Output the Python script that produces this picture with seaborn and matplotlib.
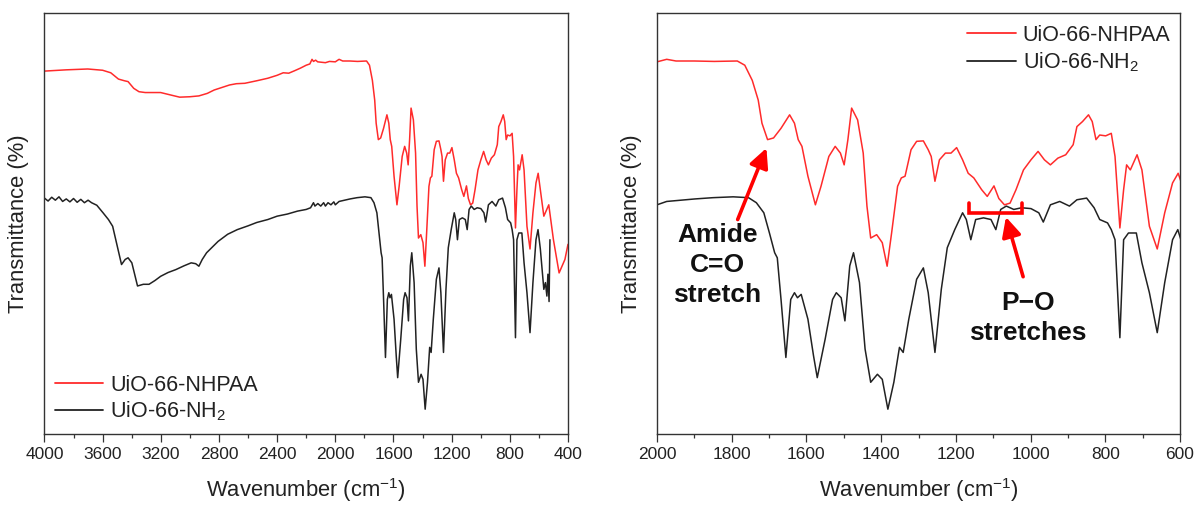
import numpy as np
import pandas as pd
import matplotlib
matplotlib.use("Agg")
import matplotlib.pyplot as plt
from matplotlib.ticker import MultipleLocator
from matplotlib.lines import Line2D
import seaborn as sns

# ---------------- data ----------------
SERIES = ["UiO-66-NHPAA", "UiO-66-NH$_2$"]
COLORS = ["#ff2b2b", "#222222"]

RED_WN = [4000, 3850, 3702, 3600, 3544, 3491, 3450, 3425, 3386, 3350, 3307, 3201, 3130, 3070,
          3000, 2938, 2880, 2833, 2727, 2680, 2622, 2540, 2464, 2400, 2358, 2320, 2279, 2240,
          2200, 2175, 2160, 2150, 2135, 2121, 2068, 2040, 2000, 1974, 1949, 1900, 1847, 1785,
          1765, 1745, 1729, 1719, 1704, 1688, 1668, 1645, 1632, 1622, 1612, 1596, 1576, 1561,
          1540, 1523, 1509, 1499, 1489, 1479, 1463, 1448, 1438, 1428, 1412, 1397, 1384, 1372,
          1356, 1346, 1336, 1320, 1305, 1287, 1274, 1266, 1256, 1244, 1228, 1213, 1198, 1182,
          1167, 1152, 1131, 1116, 1098, 1085, 1070, 1055, 1039, 1019, 999, 980, 963, 947, 927,
          906, 886, 876, 861, 845, 835, 825, 815, 799, 784, 774, 761, 751, 743, 733, 715, 702,
          682, 661, 641, 620, 605, 566, 532, 500, 461, 421, 400]
RED_T = [86.3, 86.6, 86.8, 86.5, 85.9, 84.4, 84.0, 83.8, 82.2, 81.4, 81.2, 81.2, 80.6, 80.1,
         80.2, 80.4, 81.0, 81.8, 83.0, 83.3, 83.4, 84.0, 84.6, 85.3, 85.9, 85.8, 86.4, 87.0,
         87.7, 88.0, 89.1, 88.6, 88.9, 88.5, 88.3, 88.6, 88.5, 89.1, 88.7, 88.7, 88.6, 88.7,
         87.7, 84.1, 79.4, 73.9, 70.0, 70.4, 72.7, 75.9, 73.9, 70.0, 68.4, 61.3, 54.5, 58.9,
         66.0, 68.4, 66.8, 64.0, 70.0, 77.5, 74.7, 66.8, 54.2, 46.6, 47.4, 45.5, 39.9, 47.8,
         58.9, 60.9, 61.3, 67.6, 69.6, 69.7, 67.6, 66.0, 60.1, 65.2, 66.8, 66.8, 68.1, 65.2,
         62.0, 60.9, 58.1, 56.5, 59.0, 56.0, 54.5, 54.9, 58.1, 62.8, 65.2, 67.2, 65.2, 64.0, 65.6,
         66.4, 68.8, 73.1, 74.3, 75.9, 74.3, 70.0, 71.1, 70.9, 71.5, 66.0, 49.0, 58.1, 64.0, 62.8,
         66.4, 62.8, 49.4, 44.0, 52.6, 59.7, 62.0, 51.8, 54.5, 46.2, 38.3, 41.5, 45.1]

BLK_WN = [4000, 3975, 3950, 3925, 3900, 3875, 3850, 3825, 3800, 3775, 3750, 3725, 3700, 3676,
          3640, 3597, 3560, 3531, 3505, 3470,
          3445, 3425, 3399, 3380, 3360, 3320, 3281, 3240, 3201, 3150, 3096, 3040, 2991, 2960,
          2938, 2915, 2885, 2850, 2806, 2740, 2674, 2600, 2540, 2464, 2400, 2330, 2260, 2200,
          2170, 2150, 2140, 2120, 2100, 2080, 2068, 2050, 2030, 2010, 2000, 1974, 1898, 1850,
          1796, 1755, 1734, 1714,
          1699, 1685, 1678, 1668, 1655, 1642, 1632, 1624, 1614, 1596, 1581, 1571, 1550, 1530,
          1520, 1507, 1497, 1484, 1474, 1458, 1443, 1428, 1410, 1397, 1382, 1366, 1351, 1341,
          1326, 1305, 1287, 1274, 1256, 1239, 1223, 1203, 1182, 1172, 1160, 1147, 1126, 1106,
          1093, 1080, 1065, 1045, 1024, 999, 978, 966, 947, 922, 896, 876, 850, 830, 815, 794,
          784, 774, 761, 751, 738, 717, 702, 682, 661, 641, 620, 606, 590, 575, 566, 555, 545,
          538, 530, 524]
BLK_T = [56.1, 55.4, 56.3, 55.6, 56.4, 55.3, 55.9, 55.2, 56.0, 55.1, 55.8, 55.0, 55.6, 55.0,
         54.4, 52.6, 51.0, 49.4, 45.5, 40.3,
         41.5, 41.9, 40.7, 38.0, 35.2, 35.6, 35.6, 36.5, 37.5, 38.4, 39.1, 40.0, 40.7, 40.5,
         39.9, 41.5, 43.1, 44.3, 45.8, 47.5, 48.6, 49.5, 50.3, 51.0, 51.8, 52.3, 53.0, 53.4,
         53.8, 55.0, 54.2, 54.8, 54.2, 55.0, 54.2, 55.0, 54.5, 55.2, 54.5, 55.3, 55.9, 56.2,
         56.4, 56.2, 55.0, 52.6,
         47.8, 43.1, 41.9, 32.0, 18.2, 32.0, 33.6, 32.4, 33.2, 27.3, 18.6, 13.4, 22.5, 32.0,
         33.6, 32.4, 26.9, 40.0, 43.1, 36.0, 20.2, 12.3, 14.2, 13.0, 5.9, 12.3, 20.6, 19.4,
         27.3, 36.8, 39.5, 33.6, 19.4, 34.4, 44.3, 48.6, 52.6, 51.0, 46.2, 51.0, 51.4, 51.0,
         48.6, 53.4, 54.2, 53.4, 53.8, 53.6, 52.6, 50.4, 54.5, 55.3, 54.2, 55.7, 56.1, 53.8, 51.0, 50.2,
         48.6, 46.2, 22.9, 46.2, 47.8, 47.8, 40.7, 33.6, 24.1, 36.0, 46.2, 48.6, 44.0, 38.0, 34.4, 36.0, 32.8,
         38.0, 31.5, 46.2]

# ---------------- style ----------------
sns.set_style("white")
plt.rcParams.update({
    "font.family": ["Liberation Sans", "DejaVu Sans"],
    "mathtext.fontset": "custom",
    "mathtext.rm": "Liberation Sans",
    "mathtext.it": "Liberation Sans:italic",
    "mathtext.bf": "Liberation Sans:bold",
    "axes.edgecolor": "#333333",
    "axes.linewidth": 1.0,
    "text.color": "#222222",
    "axes.labelcolor": "#222222",
    "xtick.color": "#333333",
    "xtick.labelcolor": "#222222",
    "xtick.bottom": True,
})

df = pd.concat([
    pd.DataFrame({"wn": RED_WN, "T": RED_T, "sample": SERIES[0]}),
    pd.DataFrame({"wn": BLK_WN, "T": BLK_T, "sample": SERIES[1]}),
], ignore_index=True)
palette = dict(zip(SERIES, COLORS))

fig = plt.figure(figsize=(11.98, 5.05), dpi=100)
axL = fig.add_axes([0.0371, 0.1406, 0.4370, 0.8327])
axR = fig.add_axes([0.5484, 0.1406, 0.4366, 0.8327])

for ax in (axL, axR):
    sns.lineplot(data=df, x="wn", y="T", hue="sample", palette=palette, sort=False,
                 estimator=None, lw=1.1, ax=ax, legend=False)
    ax.set_ylim(0, 100)
    ax.set_yticks([])
    ax.set_xlabel("Wavenumber (cm$^{-1}$)", fontsize=15.8, labelpad=10)
    ax.set_ylabel("Transmittance (%)", fontsize=15.8, labelpad=11)
    ax.tick_params(axis="x", which="both", bottom=True, top=False)
    ax.tick_params(axis="x", which="major", direction="out", length=6, width=0.9,
                   labelsize=12.5, pad=3.5)
    ax.tick_params(axis="x", which="minor", direction="out", length=3, width=0.9)
    for s in ax.spines.values():
        s.set_visible(True)
        s.set_color("#333333")
        s.set_linewidth(1.0)

axL.set_xlim(4000, 400)
axL.xaxis.set_major_locator(MultipleLocator(400))
axL.xaxis.set_minor_locator(MultipleLocator(200))
axR.set_xlim(2000, 600)
axR.xaxis.set_major_locator(MultipleLocator(200))
axR.xaxis.set_minor_locator(MultipleLocator(100))

handles = [Line2D([], [], color=c, lw=1.3) for c in COLORS]
leg_kw = dict(frameon=False, fontsize=15.5, handlelength=2.25, handletextpad=0.33,
              labelspacing=0.2, borderpad=0, borderaxespad=0)
axL.legend(handles, SERIES, loc="lower left", bbox_to_anchor=(0.02, 0.025), **leg_kw)
axR.legend(handles, SERIES, loc="upper left", bbox_to_anchor=(0.593, 0.973), **leg_kw)

# ---------------- annotations (right panel) ----------------
ann_red = "#ff0000"
txt_kw = dict(ha="center", va="center", fontsize=19, fontweight="bold",
              color="#111111", linespacing=1.33)
axR.text(1839, 40.2, "Amide\nC=O\nstretch", **txt_kw)
axR.text(1008, 27.6, "P\u2212O\nstretches", **txt_kw)
arrow = dict(arrowstyle="-|>,head_length=0.65,head_width=0.32", color=ann_red, lw=2.6,
             shrinkA=0, shrinkB=0, mutation_scale=18)
axR.annotate("", xy=(1707, 68.0), xytext=(1784, 51.0), arrowprops=arrow)
axR.annotate("", xy=(1066, 51.6), xytext=(1020, 37.4), arrowprops=arrow)
axR.plot([1164, 1164, 1022, 1022], [54.9, 52.6, 52.6, 54.9], color=ann_red, lw=2.6,
         solid_joinstyle="miter")

fig.savefig("out.png", dpi=100)
